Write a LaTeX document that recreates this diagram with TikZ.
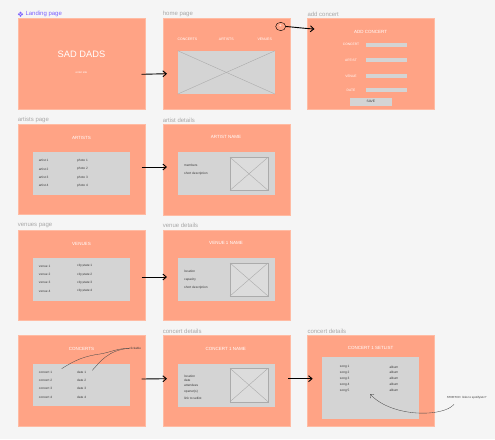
\documentclass[tikz,border=0pt]{standalone}
\usepackage{fontspec}
\setmainfont{Liberation Sans}
\usetikzlibrary{arrows.meta,shapes.geometric}
\definecolor{bg}{HTML}{F5F5F5}
\definecolor{salmon}{HTML}{FFA385}
\definecolor{salmonbd}{HTML}{FFBBA3}
\definecolor{boxgray}{HTML}{D4D4D4}
\definecolor{imggray}{HTML}{DCDCDC}
\definecolor{linegray}{HTML}{ABABAB}
\definecolor{labelgray}{HTML}{A8A8A8}
\definecolor{figpurple}{HTML}{7B61FF}
\definecolor{rowtext}{HTML}{3A3A3A}
\tikzset{
  frame/.style={draw=salmonbd, fill=salmon, line width=0.6pt, anchor=north west, inner sep=0pt, minimum width=127pt, minimum height=90.5pt},
  graybox/.style={fill=boxgray, draw=none},
  flabel/.style={anchor=west, inner sep=0pt, text=labelgray, font=\fontsize{6}{7}\selectfont},
  ttl/.style={inner sep=0pt, text=white, font=\fontsize{4.5}{5}\selectfont},
  nav/.style={inner sep=0pt, text=white, font=\fontsize{3.5}{4}\selectfont},
  row/.style={anchor=west, inner sep=0pt, text=rowtext, font=\fontsize{3.2}{4}\selectfont},
  conn/.style={draw=black, line width=0.9pt, -{Straight Barb[length=3.5pt,width=6pt]}},
  imgph/.style={fill=imggray, draw=linegray, line width=0.4pt},
  xline/.style={draw=linegray, line width=0.4pt},
  note/.style={draw=black!70, line width=0.35pt},
}
\begin{document}
\begin{tikzpicture}[x=1pt,y=-1pt]
\fill[bg] (0,0) rectangle (495,439);
\useasboundingbox (0,0) rectangle (495,439);

% ---------- Landing page
\node[frame] (landing) at (17.7,18.3) {};
\node[anchor=west, inner sep=0pt, text=figpurple, font=\fontsize{6}{7}\selectfont] (landlbl) at (25.3,14.3) {Landing page};
\begin{scope}[shift={(20.5,14.3)}]
  \fill[figpurple] (0,-2.6) -- (1.1,-1.5) -- (0,-0.4) -- (-1.1,-1.5) -- cycle;
  \fill[figpurple] (0,2.6) -- (1.1,1.5) -- (0,0.4) -- (-1.1,1.5) -- cycle;
  \fill[figpurple] (-2.6,0) -- (-1.5,1.1) -- (-0.4,0) -- (-1.5,-1.1) -- cycle;
  \fill[figpurple] (2.6,0) -- (1.5,1.1) -- (0.4,0) -- (1.5,-1.1) -- cycle;
\end{scope}
\node[inner sep=0pt, text=white, font=\fontsize{9.3}{10}\selectfont] (saddads) at (81.5,54.5) {SAD DADS};
\node[inner sep=0pt, text=white, font=\fontsize{2.8}{3}\selectfont] (enter) at (81.5,72.3) {enter site};

% ---------- Home page
\node[frame] (home) at (162.7,18.3) {};
\node[flabel] (homelbl) at (162.7,14) {home page};
\node[nav] (navc) at (187.3,39) {CONCERTS};
\node[nav] (nava) at (226.3,39) {ARTISTS};
\node[nav] (navv) at (264.7,39) {VENUES};
\node[graybox, minimum width=97pt, minimum height=43pt, inner sep=0pt, anchor=north west] (homeimg) at (177.7,50.7) {};
\draw[xline] (homeimg.north west) -- (homeimg.south east);
\draw[xline] (homeimg.south west) -- (homeimg.north east);
\node[inner sep=0pt, text=white, font=\fontsize{5}{5}\selectfont] (plus) at (280.3,26.2) {+};
\node[draw=black, line width=0.4pt, ellipse, minimum width=10pt, minimum height=8.4pt, inner sep=0pt] (plusc) at (280.7,26.5) {};

% ---------- Add concert
\node[frame] (addc) at (307.3,18.3) {};
\node[flabel] (addlbl) at (307.3,14) {add concert};
\node[ttl] (addttl) at (370.7,32.3) {ADD CONCERT};
\foreach \n/\t/\y in {fc/CONCERT/44.7, fa/ARTIST/60.3, fv/VENUE/76, fd/DATE/90.3}{
  \node[nav, font=\fontsize{3.3}{4}\selectfont] (\n) at (351,\y) {\t};
  \fill[boxgray] (365.7,\y-1.9) rectangle (406.7,\y+1.9);
}
\node[fill=boxgray, minimum width=41.3pt, minimum height=8pt, inner sep=0pt, anchor=north west] (save) at (350,97.3) {};
\node[inner sep=0pt, text=rowtext, font=\fontsize{3.3}{4}\selectfont] at (save.center) {SAVE};

% ---------- Artists page
\node[frame] (artists) at (17.7,123.7) {};
\node[flabel] (artlbl) at (17.7,120) {artists page};
\node[ttl] (artttl) at (81.5,138) {ARTISTS};
\fill[graybox] (33,152.3) rectangle (129.7,195.3);
\foreach \i/\y in {1/160.7,2/169,3/177.3,4/185.7}{
  \node[row] (ar\i) at (38.7,\y) {artist \i};
  \node[row] (ph\i) at (77,\y) {photo \i};
}

% ---------- Artist details
\node[frame] (artdet) at (162.7,124) {};
\node[flabel] (artdlbl) at (162.7,120) {artist details};
\node[ttl] (artdttl) at (226,137) {ARTIST NAME};
\fill[graybox] (177.7,152) rectangle (274.7,195.3);
\draw[imgph] (230,157.3) rectangle (268,190.3);
\draw[xline] (230,157.3) -- (268,190.3) (230,190.3) -- (268,157.3);
\node[row] (mem) at (184,165.3) {members};
\node[row] (sdesc1) at (184,173.7) {short description};

% ---------- Venues page
\node[frame] (venues) at (17.7,229.7) {};
\node[flabel] (venlbl) at (17.7,225.7) {venues page};
\node[ttl] (venttl) at (81.5,244) {VENUES};
\fill[graybox] (33,257.7) rectangle (129.7,301);
\foreach \i/\y in {1/266,2/274.3,3/282.7,4/291}{
  \node[row] (ve\i) at (38.7,\y) {venue \i};
  \node[row] (cs\i) at (77,\y) {city,state \i};
}

% ---------- Venue details
\node[frame] (vendet) at (162.7,229.7) {};
\node[flabel] (vendlbl) at (162.7,225.7) {venue details};
\node[ttl] (vendttl) at (226,243) {VENUE 1 NAME};
\fill[graybox] (177.7,257.7) rectangle (274.7,301);
\draw[imgph] (230,263) rectangle (268,296);
\draw[xline] (230,263) -- (268,296) (230,296) -- (268,263);
\node[row] (loc) at (184,271) {location};
\node[row] (cap) at (184,279.3) {capacity};
\node[row] (sdesc2) at (184,287.7) {short description};

% ---------- Concerts page
\node[frame] (concerts) at (17.7,335.3) {};
\node[ttl] (conttl) at (81.5,349.3) {CONCERTS};
\fill[graybox] (33,363.7) rectangle (129.7,406.3);
\foreach \i/\y in {1/372,2/380.3,3/388.7,4/397}{
  \node[row] (co\i) at (38.7,\y) {concert \i};
  \node[row] (da\i) at (77,\y) {date \i};
}
\node[inner sep=0pt, text=rowtext, font=\fontsize{3}{4}\selectfont] (click) at (135.2,348.3) {clickable};
\draw[note] (61.7,368.7) .. controls (75,360) and (85,356) .. (100,354) .. controls (112,352) and (116,348.5) .. (click.west);
\draw[note] (92.3,370.3) .. controls (100,362) and (108,350) .. (click.west);

% ---------- Concert details
\node[frame] (condet) at (162.7,335.3) {};
\node[flabel] (condlbl) at (162.7,331) {concert details};
\node[ttl] (condttl) at (225.7,348.7) {CONCERT 1 NAME};
\fill[graybox] (177.7,363.7) rectangle (274.7,406.7);
\draw[imgph] (230,368.3) rectangle (268,401.7);
\draw[xline] (230,368.3) -- (268,401.7) (230,401.7) -- (268,368.3);
\node[row] (cloc) at (184,376.2) {location};
\node[row] (cdate) at (184,380.6) {date};
\node[row] (catt) at (184,385.2) {attendees};
\node[row] (copen) at (184,391.3) {opener(s)};
\node[row] (clink) at (184,398) {link to setlist};

% ---------- Concert setlist
\node[frame] (setl) at (307.3,335.3) {};
\node[flabel] (setlbl) at (307.3,331) {concert details};
\node[ttl] (setttl) at (370.7,348.3) {CONCERT 1 SETLIST};
\fill[graybox] (322.3,357) rectangle (419.3,418.7);
\foreach \i/\y in {1/367,2/372.7,3/378.3,4/384.3,5/390.7}{
  \node[row] (so\i) at (339.7,\y) {song \i};
  \node[row] (al\i) at (389.3,\y) {album};
}
\node[inner sep=0pt, text=rowtext, font=\fontsize{2.9}{4}\selectfont] (stretch) at (466.7,397.7) {STRETCH: links to spotify/etc?};
\coordinate (stretchend) at (370,394);
\draw[note, -{Straight Barb[length=3pt,width=5pt]}] (454,404.3) .. controls (444,417) and (392,418) .. (stretchend);

% ---------- Connectors
\coordinate (a1s) at (141.7,74.3);
\coordinate (a1e) at (167,73.7);
\draw[conn] (a1s) -- (a1e);
\coordinate (a2e) at (314.5,29);
\draw[conn] (plusc.east) .. controls (296,27.3) and (305,28.5) .. (a2e);
\coordinate (a3s) at (141.7,167);
\coordinate (a3e) at (167,167);
\draw[conn] (a3s) -- (a3e);
\coordinate (a4s) at (141.7,277);
\coordinate (a4e) at (167,277);
\draw[conn] (a4s) -- (a4e);
\coordinate (a5s) at (141.7,379);
\coordinate (a5e) at (167,378.7);
\draw[conn] (a5s) -- (a5e);
\coordinate (a6s) at (288.3,378.7);
\coordinate (a6e) at (312.7,378.7);
\draw[conn] (a6s) -- (a6e);
\end{tikzpicture}
\end{document}
